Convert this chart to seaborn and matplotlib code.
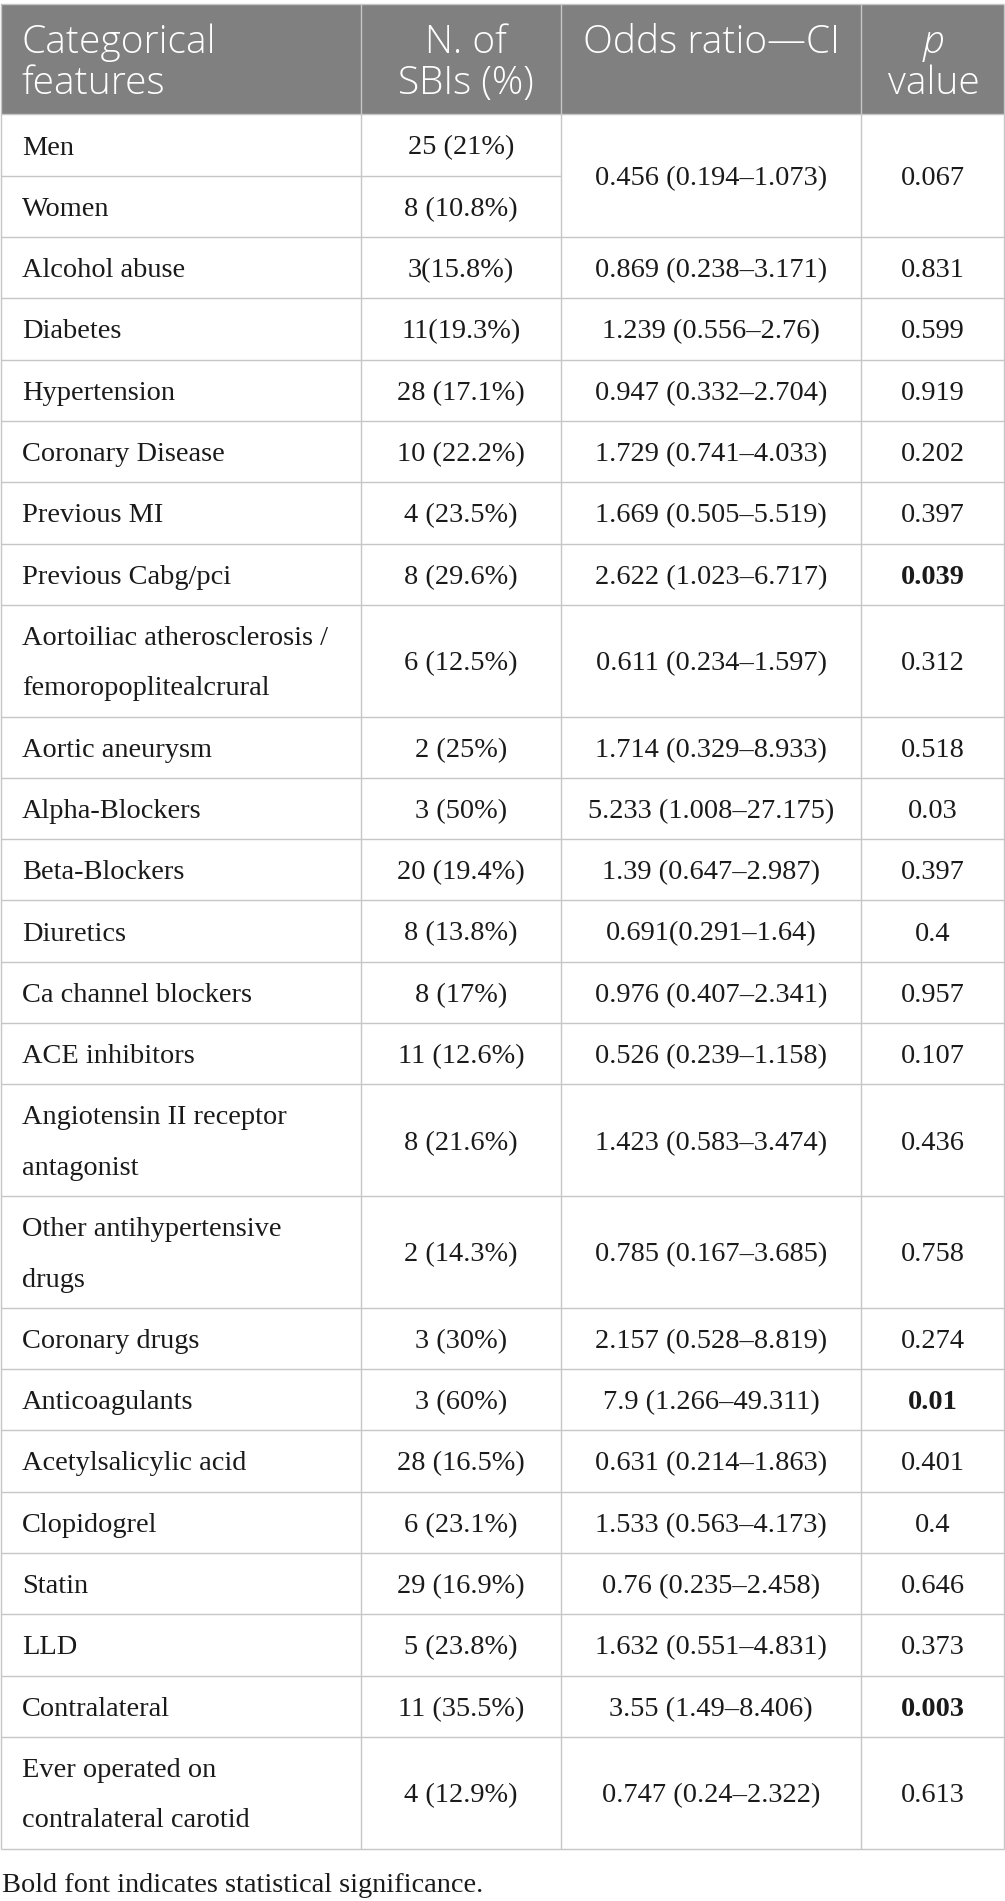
import matplotlib
matplotlib.use("Agg")
import matplotlib.pyplot as plt
from matplotlib.patches import Rectangle
import seaborn as sns

# table content
header_lines = [
    ["Categorical", "features"],
    ["N. of", "SBIs (%)"],
    ["Odds ratio\u2014CI"],
    ["p", "value"],
]
features = [
    "Men", "Women", "Alcohol abuse", "Diabetes", "Hypertension",
    "Coronary Disease", "Previous MI", "Previous Cabg/pci",
    "Aortoiliac atherosclerosis /\nfemoropoplitealcrural",
    "Aortic aneurysm", "Alpha-Blockers", "Beta-Blockers", "Diuretics",
    "Ca channel blockers", "ACE inhibitors",
    "Angiotensin II receptor\nantagonist",
    "Other antihypertensive\ndrugs",
    "Coronary drugs", "Anticoagulants", "Acetylsalicylic acid",
    "Clopidogrel", "Statin", "LLD", "Contralateral",
    "Ever operated on\ncontralateral carotid",
]
n_sbis = [
    "25 (21%)", "8 (10.8%)", "3(15.8%)", "11(19.3%)", "28 (17.1%)",
    "10 (22.2%)", "4 (23.5%)", "8 (29.6%)", "6 (12.5%)", "2 (25%)",
    "3 (50%)", "20 (19.4%)", "8 (13.8%)", "8 (17%)", "11 (12.6%)",
    "8 (21.6%)", "2 (14.3%)", "3 (30%)", "3 (60%)", "28 (16.5%)",
    "6 (23.1%)", "29 (16.9%)", "5 (23.8%)", "11 (35.5%)", "4 (12.9%)",
]
# odds ratio / p value cells; first one spans Men + Women
odds_ci = [
    "0.456 (0.194\u20131.073)", "0.869 (0.238\u20133.171)", "1.239 (0.556\u20132.76)",
    "0.947 (0.332\u20132.704)", "1.729 (0.741\u20134.033)", "1.669 (0.505\u20135.519)",
    "2.622 (1.023\u20136.717)", "0.611 (0.234\u20131.597)", "1.714 (0.329\u20138.933)",
    "5.233 (1.008\u201327.175)", "1.39 (0.647\u20132.987)", "0.691(0.291\u20131.64)",
    "0.976 (0.407\u20132.341)", "0.526 (0.239\u20131.158)", "1.423 (0.583\u20133.474)",
    "0.785 (0.167\u20133.685)", "2.157 (0.528\u20138.819)", "7.9 (1.266\u201349.311)",
    "0.631 (0.214\u20131.863)", "1.533 (0.563\u20134.173)", "0.76 (0.235\u20132.458)",
    "1.632 (0.551\u20134.831)", "3.55 (1.49\u20138.406)", "0.747 (0.24\u20132.322)",
]
p_values = [
    "0.067", "0.831", "0.599", "0.919", "0.202", "0.397", "0.039", "0.312",
    "0.518", "0.03", "0.397", "0.4", "0.957", "0.107", "0.436", "0.758",
    "0.274", "0.01", "0.401", "0.4", "0.646", "0.373", "0.003", "0.613",
]
significant = ["0.039", "0.01", "0.003"]
stat_span = [2] + [1] * 23
footnote = "Bold font indicates statistical significance."

sns.set_theme(style="white")
plt.rcParams["font.family"] = ["Liberation Serif", "DejaVu Serif"]

W, H = 1005, 1901
fig = plt.figure(figsize=(W / 100, H / 100), dpi=100)
ax = fig.add_axes([0, 0, 1, 1])
ax.set_xlim(0, W)
ax.set_ylim(H, 0)
ax.axis("off")

col_x = [1, 361, 561, 861, 1004]
line_c = "#c6c6c6"
lw = 1.0
body_fs = 20.4
head_fs = 28
cap = 9.4          # half cap height in px, for centring baselines
base_h, line_h = 61.3, 50.4
head_top, head_bot = 4.5, 114.5

# header
ax.add_patch(Rectangle((col_x[0], head_top), col_x[-1] - col_x[0],
                       head_bot - head_top, color="#808080", lw=0))
head_base = [53, 94]
head_shift = [0, 5, 0, 1]
for c, lines in enumerate(header_lines):
    for i, t in enumerate(lines):
        if c == 0:
            x, ha = 22, "left"
        else:
            x, ha = (col_x[c] + col_x[c + 1]) / 2 + head_shift[c], "center"
        style = "italic" if (c == 3 and i == 0) else "normal"
        ax.text(x, head_base[i], t, ha=ha, va="baseline", color="white",
                fontsize=head_fs, family=["Open Sans", "DejaVu Sans"],
                fontweight="light", fontstyle=style)

# row positions from number of label lines
tops = []
y = head_bot
for f in features:
    tops.append(y)
    y += base_h + line_h * (f.count("\n"))
tops.append(y)
bottom = y


def put(x, y0, y1, text, ha, weight="normal"):
    lines = text.split("\n")
    mid = (y0 + y1) / 2
    n = len(lines)
    for i, t in enumerate(lines):
        yb = mid + cap + (i - (n - 1) / 2) * line_h
        ax.text(x, yb, t, ha=ha, va="baseline", fontsize=body_fs,
                color="#1a1a1a", fontweight=weight)


for r, f in enumerate(features):
    put(22, tops[r], tops[r + 1], f, "left")
    put((col_x[1] + col_x[2]) / 2, tops[r], tops[r + 1], n_sbis[r], "center")

r = 0
for k, span in enumerate(stat_span):
    y0, y1 = tops[r], tops[r + span]
    put((col_x[2] + col_x[3]) / 2, y0, y1, odds_ci[k], "center")
    wt = "bold" if p_values[k] in significant else "normal"
    put((col_x[3] + col_x[4]) / 2, y0, y1, p_values[k], "center", wt)
    # horizontal rules: inner rows of a merged group only cross first two columns
    for j in range(1, span):
        ax.hlines(tops[r + j], col_x[0], col_x[2], color=line_c, lw=lw)
    ax.hlines(y1, col_x[0], col_x[-1], color=line_c, lw=lw)
    r += span

ax.hlines([head_top, head_bot], col_x[0], col_x[-1], color=line_c, lw=lw)
ax.vlines(col_x, head_top, bottom, color=line_c, lw=lw)

ax.text(2, 1892, footnote, ha="left", va="baseline", fontsize=body_fs,
        color="#1a1a1a")

fig.savefig("out.png", dpi=100)
